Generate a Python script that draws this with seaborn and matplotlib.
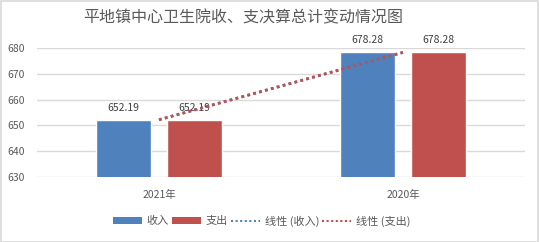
import numpy as np
import pandas as pd
import matplotlib
matplotlib.use("Agg")
import matplotlib.pyplot as plt
import seaborn as sns
from matplotlib.patches import Rectangle, Patch
from matplotlib.lines import Line2D

categories = ["2021年", "2020年"]
series_names = ["收入", "支出"]
income = [652.19, 678.28]
expense = [652.19, 678.28]
title = "平地镇中心卫生院收、支决算总计变动情况图"
trend_labels = ["线性 (收入)", "线性 (支出)"]
yticks = [630, 640, 650, 660, 670, 680]

sns.set_theme(style="white")
plt.rcParams['font.family'] = ['Noto Sans CJK SC', 'DejaVu Sans']

blue = "#4F81BD"
red = "#C0504D"
txt = "#595959"
grid = "#D9D9D9"

df = pd.DataFrame({
    "cat": categories * 2,
    "series": [series_names[0]] * 2 + [series_names[1]] * 2,
    "value": income + expense,
})

fig = plt.figure(figsize=(5.4, 2.42), dpi=100)
ax = fig.add_axes([0.0685, 0.2686, 0.9035, 0.5331])

sns.barplot(data=df, x="cat", y="value", hue="series", order=categories,
            hue_order=series_names, palette=[blue, red], width=0.58, gap=0.22,
            ax=ax, legend=False, saturation=1)

for c in ax.containers:
    ax.bar_label(c, fmt="%.2f", padding=5, fontsize=7.5, color="#404040")

x = np.arange(len(categories))
for vals, col in [(income, blue), (expense, red)]:
    k, b = np.polyfit(x, vals, 1)
    ax.plot(x, k * x + b, color=col, linestyle=(0, (1, 1.2)), linewidth=2.0, zorder=3)

ax.set_ylim(630, 680)
ax.set_xlim(-0.5, 1.5)
ax.set_yticks(yticks)
ax.yaxis.grid(True, color=grid, linewidth=1)
ax.set_axisbelow(True)
for s in ax.spines.values():
    s.set_visible(False)
ax.tick_params(axis="both", length=0, labelsize=7.5, colors=txt)
ax.tick_params(axis="y", pad=9)
ax.tick_params(axis="x", pad=9)
ax.set_xlabel("")
ax.set_ylabel("")

fig.text(0.45, 0.925, title, ha="center", va="center", fontsize=11.5, color=txt)

handles = [
    Patch(facecolor=blue, edgecolor="none"),
    Patch(facecolor=red, edgecolor="none"),
    Line2D([0], [0], color=blue, linestyle=(0, (1, 1.2)), linewidth=1.5),
    Line2D([0], [0], color=red, linestyle=(0, (1, 1.2)), linewidth=1.5),
]
labels = series_names + trend_labels
leg = fig.legend(handles, labels, loc="center", bbox_to_anchor=(0.485, 0.087), ncol=4,
                 frameon=False, fontsize=8, handlelength=2.6, handleheight=0.6,
                 handletextpad=0.4, columnspacing=0.3, labelcolor=txt)

fig.patches.append(Rectangle((0.001, 0.002), 0.996, 0.994, transform=fig.transFigure,
                             fill=False, edgecolor=grid, linewidth=1.2))

fig.savefig("out.png", dpi=100, facecolor="white")
